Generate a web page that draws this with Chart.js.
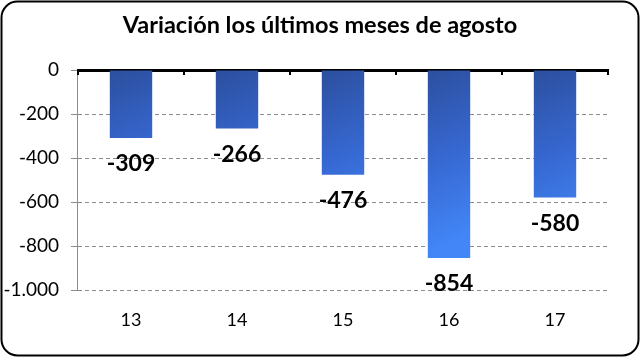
<!DOCTYPE html>
<html>
<head>
<meta charset="utf-8">
<script src="https://cdn.jsdelivr.net/npm/chart.js@4/dist/chart.umd.min.js"></script>
<style>
html,body{margin:0;padding:0;background:#fff;}
#wrap{width:640px;height:357px;position:relative;}
</style>
</head>
<body>
<div id="wrap"><canvas id="c" width="640" height="357"></canvas></div>
<script>
const titleText = 'Variación los últimos meses de agosto';
const categories = ['13', '14', '15', '16', '17'];
const values = [-309, -266, -476, -854, -580];
const yTicks = [0, -200, -400, -600, -800, -1000];

const FONT = 'Lato, "Open Sans", sans-serif';

function fmt(v) {
  const s = Math.abs(v).toString().replace(/\B(?=(\d{3})+(?!\d))/g, '.');
  return (v < 0 ? '-' : '') + s;
}

const frame = {
  id: 'frame',
  beforeDraw(chart) {
    const ctx = chart.ctx;
    ctx.save();
    ctx.fillStyle = '#fff';
    ctx.fillRect(0, 0, chart.width, chart.height);
    ctx.restore();
  },
  beforeDatasetsDraw(chart) {
    const ctx = chart.ctx;
    const a = chart.chartArea;
    ctx.save();
    ctx.strokeStyle = '#8c8c8c';
    ctx.lineWidth = 1;
    ctx.beginPath();
    ctx.moveTo(Math.round(a.left) - 0.5, a.top);
    ctx.lineTo(Math.round(a.left) - 0.5, a.bottom);
    ctx.stroke();
    ctx.restore();
  },
  afterDraw(chart) {
    const ctx = chart.ctx;
    ctx.save();
    ctx.strokeStyle = '#000';
    ctx.lineWidth = 2;
    ctx.beginPath();
    ctx.roundRect(1.5, 1.5, chart.width - 3, chart.height - 3, 16);
    ctx.stroke();
    const x = chart.scales.x, y = chart.scales.y;
    const y0 = y.getPixelForValue(0);
    ctx.lineWidth = 2;
    for (let i = 0; i <= categories.length; i++) {
      const px = Math.round(x.getPixelForValue(i - 0.5));
      ctx.beginPath();
      ctx.moveTo(px, y0);
      ctx.lineTo(px, y0 + 5);
      ctx.stroke();
    }
    const meta = chart.getDatasetMeta(0);
    ctx.fillStyle = '#000';
    ctx.font = 'bold 23px ' + FONT;
    ctx.textAlign = 'center';
    ctx.textBaseline = 'middle';
    meta.data.forEach((bar, i) => {
      ctx.fillText(fmt(values[i]), bar.x, bar.y + 26);
    });
    ctx.restore();
  }
};

const ctx = document.getElementById('c').getContext('2d');
new Chart(ctx, {
  type: 'bar',
  data: {
    labels: categories,
    datasets: [{
      data: values,
      xAxisID: 'x',
      yAxisID: 'y',
      barPercentage: 0.8,
      categoryPercentage: 0.5,
      borderWidth: 0,
      backgroundColor: (c) => {
        const chart = c.chart;
        const xs = chart.scales && chart.scales.x;
        if (!chart.chartArea || !xs || c.dataIndex === undefined) return '#3a6fd8';
        const cx = xs.getPixelForValue(c.dataIndex);
        if (!isFinite(cx)) return '#3a6fd8';
        const w = 21;
        const top = chart.chartArea.top;
        const g = chart.ctx.createLinearGradient(cx - w, top, cx + w + 30, top + 150);
        g.addColorStop(0, '#2c4f9e');
        g.addColorStop(0.5, '#3667d0');
        g.addColorStop(1, '#4286f7');
        return g;
      }
    }]
  },
  options: {
    responsive: false,
    animation: false,
    layout: { padding: 0 },
    plugins: {
      legend: { display: false },
      tooltip: { enabled: false },
      title: {
        display: true,
        text: titleText,
        color: '#000',
        font: { family: FONT, size: 23.5, weight: 'bold', lineHeight: 1.2 },
        padding: { top: 11, bottom: 10 }
      }
    },
    scales: {
      x: {
        position: 'top',
        offset: true,
        grid: { display: false, drawOnChartArea: false, drawTicks: false },
        border: { display: true, color: '#000', width: 3 },
        ticks: { display: false },
        afterFit(s) { s.height = 70 - (23.5 * 1.2 + 21); }
      },
      x2: {
        type: 'category',
        labels: categories,
        position: 'bottom',
        offset: true,
        grid: { display: false, drawTicks: false },
        border: { display: false },
        ticks: { color: '#000', font: { family: FONT, size: 18 }, padding: 19 },
        afterFit(s) { s.height = 357 - 290; }
      },
      y: {
        min: -1000,
        max: 0,
        afterBuildTicks(s) { s.ticks = yTicks.map(v => ({ value: v })); },
        grid: { color: '#8c8c8c', lineWidth: 1, tickLength: 7, drawTicks: true },
        border: { display: false, dash: [4, 3] },
        ticks: {
          color: '#000',
          font: { family: FONT, size: 19 },
          padding: 12,
          callback: (v) => fmt(v)
        },
        afterFit(s) { s.width = 78; }
      },
      yRight: {
        type: 'linear',
        position: 'right',
        min: -1000,
        max: 0,
        grid: { display: false, drawTicks: false },
        border: { display: false },
        ticks: { display: false },
        afterFit(s) { s.width = 32; }
      }
    }
  },
  plugins: [frame]
});
</script>
</body>
</html>
